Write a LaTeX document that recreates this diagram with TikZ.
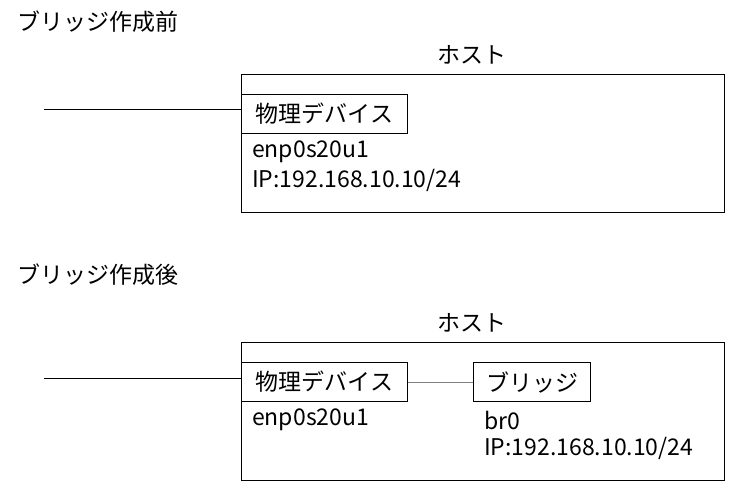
\documentclass[tikz,border=0pt]{standalone}
\usepackage{fontspec}
\setmainfont{Noto Sans CJK JP}
\usetikzlibrary{positioning}
\tikzset{
  hostbox/.style={draw,line width=1pt,inner sep=0pt,minimum width=483pt,minimum height=138pt,anchor=north west},
  devbox/.style={draw,line width=1pt,inner sep=0pt,minimum height=39pt,anchor=north west},
  plain/.style={anchor=west,inner sep=0pt},
  wire/.style={line width=1pt},
}
\begin{document}
\begin{tikzpicture}[x=1pt,y=-1pt,font=\fontsize{23}{27}\selectfont]
\useasboundingbox (0,0) rectangle (736,496);
% before the bridge
\node[plain] (titleA) at (17,22) {ブリッジ作成前};
\node (hostlabelA) at (472,55) {ホスト};
\node[hostbox] (hostA) at (241,74) {};
\node[devbox,minimum width=166pt] (devA) at (241,94) {物理デバイス};
\node[plain] (ifA) at (252,152) {enp0s20u1};
\node[plain] (ipA) at (252,180) {IP:192.168.10.10/24};
\coordinate (cableA) at (44,109);
\draw[wire] (cableA) -- (cableA -| devA.west);
% after the bridge
\node[plain] (titleB) at (17,275) {ブリッジ作成後};
\node (hostlabelB) at (472,323) {ホスト};
\node[hostbox] (hostB) at (241,342) {};
\node[devbox,minimum width=166pt] (devB) at (241,362) {物理デバイス};
\node[devbox,minimum width=117pt] (brB) at (473,362) {ブリッジ};
\node[plain] (ifB) at (252,420) {enp0s20u1};
\node[plain] (brname) at (484,420) {br0};
\node[plain] (ipB) at (484,448) {IP:192.168.10.10/24};
\coordinate (cableB) at (44,378);
\draw[wire] (cableB) -- (cableB -| devB.west);
\draw[wire,gray] (devB.east) -- (brB.west);
\end{tikzpicture}
\end{document}
